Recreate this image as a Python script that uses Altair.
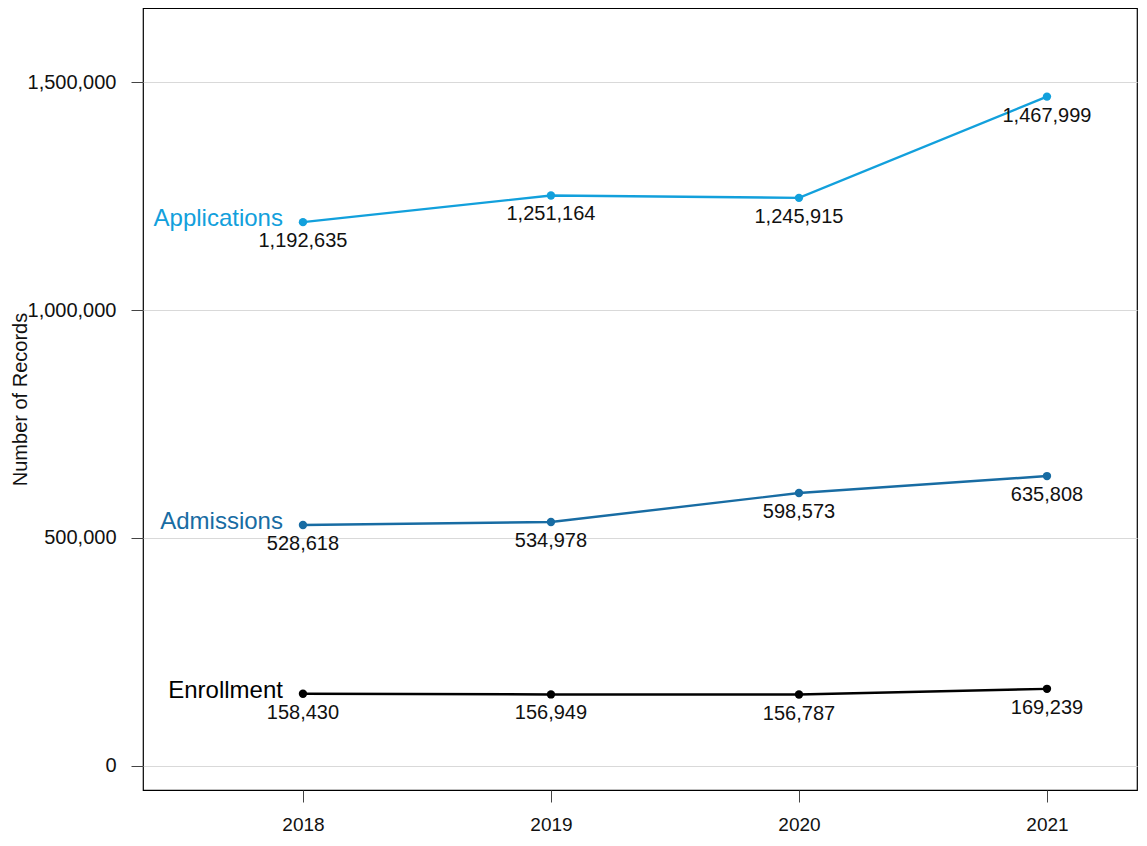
import altair as alt
import pandas as pd

years = [2018, 2019, 2020, 2021]
series_names = ["Applications", "Admissions", "Enrollment"]
applications = [1192635, 1251164, 1245915, 1467999]
admissions = [528618, 534978, 598573, 635808]
enrollment = [158430, 156949, 156787, 169239]
colors = ["#12a0dc", "#186ca3", "#000000"]
y_ticks = [0, 500000, 1000000, 1500000]

rows = []
for name, vals in zip(series_names, [applications, admissions, enrollment]):
    for yr, v in zip(years, vals):
        rows.append({"year": yr, "series": name, "value": v})
df = pd.DataFrame(rows)

xs = alt.Scale(domain=[2017.355, 2021.363], nice=False, zero=False)
ys = alt.Scale(domain=[-52632, 1662281], nice=False, zero=False)
cs = alt.Scale(domain=series_names, range=colors)

x = alt.X("year:Q", scale=xs, axis=alt.Axis(values=years, labelExpr="format(datum.value, 'd')",
                                          title=None, grid=False))
y = alt.Y("value:Q", scale=ys, axis=alt.Axis(values=y_ticks, labelExpr="format(datum.value, ',')",
                                           title="Number of Records", grid=True))
color = alt.Color("series:N", scale=cs, legend=None)

base = alt.Chart(df)
lines = base.mark_line(strokeWidth=2.4).encode(x=x, y=y, color=color, detail="series:N")
points = base.mark_point(filled=True, size=70, opacity=1).encode(x=x, y=y, color=color)
values = base.mark_text(fontSize=20, baseline="middle", dy=19, color="#111").encode(
    x=x, y=y, text=alt.Text("value:Q", format=","))
labels = base.transform_filter(alt.datum.year == 2018).mark_text(
    fontSize=24, align="right", baseline="middle", dx=-20, dy=-3).encode(
    x=x, y=y, text="series:N", color=color)

chart = alt.layer(lines, points, values, labels).properties(
    width=994, height=782,
    autosize=alt.AutoSizeParams(type="none"),
    padding={"left": 135, "top": 0, "right": 2, "bottom": 46},
).configure(font="Liberation Sans").configure_view(
    stroke="#000", strokeWidth=1.2
).configure_axis(
    domain=False, tickSize=12, tickColor="#444", labelFontSize=20, labelColor="#111",
    titleFontSize=20, titleFontWeight="normal", titleColor="#111", gridColor="#d9d9d9"
).configure_axisX(
    labelPadding=13, labelFontSize=19
).configure_axisY(
    labelPadding=15, titleX=-123, titleBaseline="middle"
)

chart.save("out.html", embed_options={"renderer": "svg", "actions": False})
